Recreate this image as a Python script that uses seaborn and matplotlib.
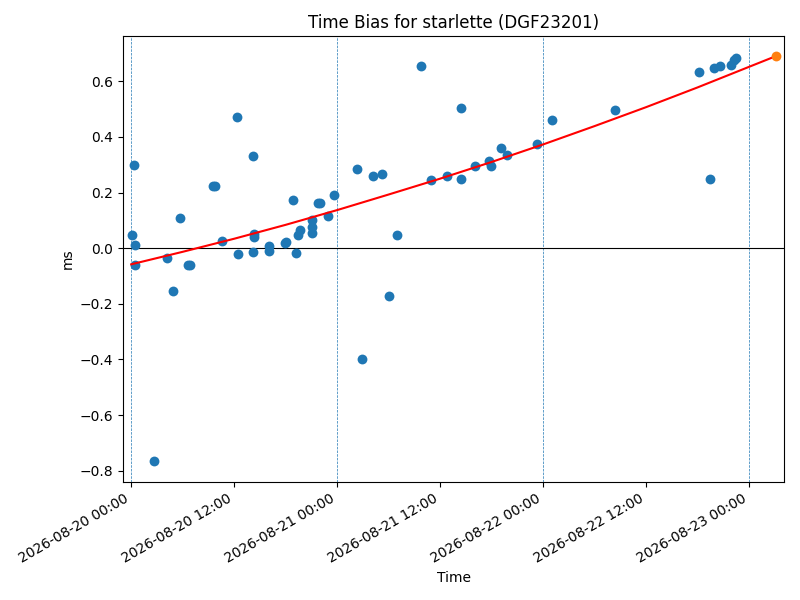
import matplotlib
matplotlib.use("Agg")
import matplotlib.pyplot as plt
import matplotlib.dates as mdates
import pandas as pd
import seaborn as sb

# measured time bias samples (ms)
times = [
    "2026-08-20 00:07", "2026-08-20 00:21", "2026-08-20 00:30", "2026-08-20 00:28",
    "2026-08-20 02:36", "2026-08-20 04:07", "2026-08-20 04:53", "2026-08-20 05:43",
    "2026-08-20 06:35", "2026-08-20 06:49", "2026-08-20 09:33", "2026-08-20 09:44",
    "2026-08-20 10:38", "2026-08-20 12:21", "2026-08-20 12:28", "2026-08-20 14:15",
    "2026-08-20 14:15", "2026-08-20 14:22", "2026-08-20 14:22", "2026-08-20 16:07",
    "2026-08-20 16:07", "2026-08-20 17:54", "2026-08-20 18:04", "2026-08-20 18:52",
    "2026-08-20 19:15", "2026-08-20 19:29", "2026-08-20 19:43", "2026-08-20 21:05",
    "2026-08-20 21:05", "2026-08-20 21:05", "2026-08-20 21:44", "2026-08-20 21:58",
    "2026-08-20 22:59", "2026-08-20 23:41", "2026-08-21 02:20", "2026-08-21 02:57",
    "2026-08-21 04:11", "2026-08-21 05:17", "2026-08-21 06:04", "2026-08-21 07:01",
    "2026-08-21 09:47", "2026-08-21 10:59", "2026-08-21 12:51", "2026-08-21 14:29",
    "2026-08-21 14:27", "2026-08-21 16:07", "2026-08-21 17:44", "2026-08-21 17:54",
    "2026-08-21 19:06", "2026-08-21 19:46", "2026-08-21 23:18", "2026-08-22 01:03",
    "2026-08-22 08:23", "2026-08-22 18:10", "2026-08-22 19:29", "2026-08-22 19:53",
    "2026-08-22 20:37", "2026-08-22 21:52", "2026-08-22 22:15", "2026-08-22 22:29",
]
bias = [
    0.047, 0.298, 0.013, -0.059,
    -0.766, -0.036, -0.155, 0.110,
    -0.062, -0.062, 0.225, 0.223,
    0.025, 0.470, -0.022, 0.330,
    -0.015, 0.050, 0.040, 0.007,
    -0.011, 0.019, 0.022, 0.175,
    -0.019, 0.047, 0.065, 0.100,
    0.077, 0.054, 0.164, 0.164,
    0.115, 0.193, 0.286, -0.397,
    0.258, 0.266, -0.172, 0.046,
    0.654, 0.244, 0.261, 0.250,
    0.503, 0.294, 0.315, 0.297,
    0.360, 0.334, 0.374, 0.460,
    0.498, 0.635, 0.248, 0.649,
    0.655, 0.660, 0.676, 0.683,
]

# fitted trend
fit_times = [
    "2026-08-20 00:00", "2026-08-20 06:00", "2026-08-20 12:00", "2026-08-20 18:00",
    "2026-08-21 00:00", "2026-08-21 06:00", "2026-08-21 12:00", "2026-08-21 18:00",
    "2026-08-22 00:00", "2026-08-22 06:00", "2026-08-22 12:00", "2026-08-22 18:00",
    "2026-08-23 00:00", "2026-08-23 03:10",
]
fit_bias = [
    -0.058, -0.013, 0.034, 0.084,
    0.137, 0.193, 0.250, 0.310,
    0.373, 0.439, 0.507, 0.578,
    0.652, 0.691,
]

# predicted point
pred_time = ["2026-08-23 03:10"]
pred_bias = [0.691]

midnights = ["2026-08-20", "2026-08-21", "2026-08-22", "2026-08-23"]

df = pd.DataFrame({"time": pd.to_datetime(times), "bias": bias})
fit = pd.DataFrame({"time": pd.to_datetime(fit_times), "bias": fit_bias})
pred = pd.DataFrame({"time": pd.to_datetime(pred_time), "bias": pred_bias})

fig, ax = plt.subplots(figsize=(8, 6), dpi=100)

for d in pd.to_datetime(midnights):
    ax.axvline(d, color="C0", linestyle="--", linewidth=0.5)
ax.axhline(0, color="black", linewidth=0.8)

sb.scatterplot(data=df, x="time", y="bias", color="C0", s=50, linewidth=0, ax=ax, zorder=3)
sb.lineplot(data=fit, x="time", y="bias", color="red", linewidth=1.5, ax=ax, zorder=4)
sb.scatterplot(data=pred, x="time", y="bias", color="C1", s=50, linewidth=0, ax=ax, zorder=5)

ax.set_xlim(pd.Timestamp("2026-08-19 23:04"), pd.Timestamp("2026-08-23 04:05"))
ax.set_ylim(-0.84, 0.763)
ax.xaxis.set_major_locator(mdates.HourLocator(byhour=[0, 12]))
ax.xaxis.set_major_formatter(mdates.DateFormatter("%Y-%m-%d %H:%M"))
for lbl in ax.get_xticklabels():
    lbl.set_rotation(30)
    lbl.set_ha("right")

ax.set_title("Time Bias for starlette (DGF23201)")
ax.set_xlabel("Time")
ax.set_ylabel("ms")

fig.subplots_adjust(left=0.154, right=0.98, top=0.94, bottom=0.197)
fig.savefig("out.png", dpi=100)
